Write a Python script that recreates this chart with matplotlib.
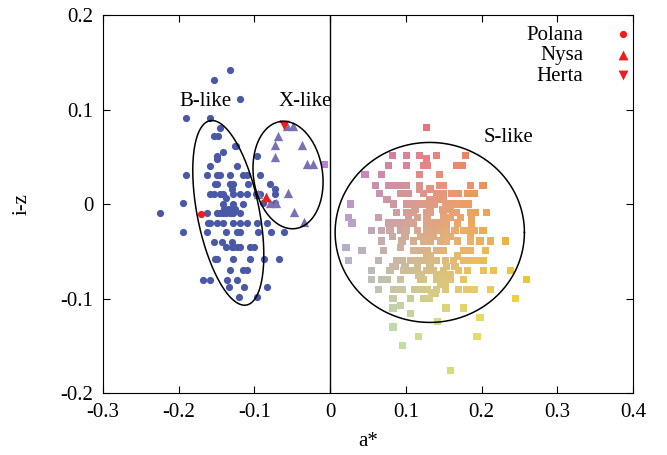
import numpy as np
import matplotlib.pyplot as plt

plt.rcParams['font.family'] = ['Liberation Serif', 'DejaVu Serif']
plt.rcParams['font.size'] = 15

# B-like: cada linha e (i-z, [valores de a*])
b_rows = [
    (0.142, [-0.132]),
    (0.131, [-0.154]),
    (0.111, [-0.119]),
    (0.091, [-0.190, -0.159]),
    (0.081, [-0.146]),
    (0.072, [-0.154, -0.148]),
    (0.061, [-0.126, -0.124]),
    (0.055, [-0.142]),
    (0.051, [-0.149, -0.097]),
    (0.048, [-0.149]),
    (0.040, [-0.159, -0.123]),
    (0.031, [-0.190, -0.163, -0.149, -0.146, -0.132, -0.115, -0.110, -0.092]),
    (0.021, [-0.152, -0.149, -0.132, -0.128, -0.109, -0.079]),
    (0.016, [-0.130, -0.073]),
    (0.011, [-0.159, -0.154, -0.146, -0.141, -0.128, -0.119, -0.110, -0.098, -0.092, -0.073]),
    (0.006, [-0.137]),
    (0.001, [-0.194, -0.088, -0.073]),
    (0.000, [-0.142, -0.128, -0.115]),
    (-0.005, [-0.140, -0.135, -0.130, -0.126]),
    (-0.009, [-0.225, -0.163, -0.150, -0.146, -0.141, -0.137, -0.132, -0.128, -0.119]),
    (-0.020, [-0.161, -0.159, -0.150, -0.141, -0.128, -0.119, -0.110, -0.097, -0.083]),
    (-0.030, [-0.194, -0.163, -0.137, -0.123, -0.119, -0.095, -0.078, -0.061]),
    (-0.040, [-0.154, -0.143, -0.130]),
    (-0.045, [-0.137, -0.130, -0.128, -0.123, -0.119, -0.106, -0.101]),
    (-0.058, [-0.152, -0.149, -0.128, -0.106, -0.087, -0.068]),
    (-0.070, [-0.132, -0.115, -0.110]),
    (-0.080, [-0.168, -0.159, -0.136, -0.123]),
    (-0.088, [-0.133, -0.114, -0.083]),
    (-0.098, [-0.120, -0.096]),
]

# X-like (triangulos)
x_a = [-0.057, -0.049, -0.069, -0.073, -0.037, -0.073, -0.031, -0.022,
       -0.095, -0.079, -0.071, -0.056, -0.048, -0.034]
x_iz = [0.083, 0.083, 0.072, 0.063, 0.062, 0.050, 0.042, 0.042,
        0.011, 0.001, 0.001, 0.012, -0.008, -0.019]

# S-like (quadrados)
s_rows = [
    (0.081, [0.127]),
    (0.051, [0.082, 0.101, 0.118, 0.140, 0.179]),
    (0.048, [0.127]),
    (0.042, [-0.007]),
    (0.041, [0.077, 0.101, 0.123, 0.128, 0.167, 0.175]),
    (0.031, [0.046, 0.068, 0.118, 0.144]),
    (0.020, [0.060, 0.077, 0.082, 0.092, 0.101, 0.118, 0.145, 0.150, 0.185, 0.202]),
    (0.016, [0.118, 0.132]),
    (0.011, [0.065, 0.093, 0.101, 0.104, 0.123, 0.141, 0.150, 0.160, 0.170, 0.181, 0.185, 0.190]),
    (0.005, [0.075, 0.132, 0.141, 0.150]),
    (0.000, [0.027, 0.084, 0.101, 0.108, 0.118, 0.128, 0.138, 0.152, 0.162, 0.170, 0.176, 0.183]),
    (-0.006, [0.112, 0.132, 0.149, 0.159]),
    (-0.009, [0.088, 0.101, 0.110, 0.128, 0.132, 0.150, 0.162, 0.167, 0.185, 0.192, 0.207]),
    (-0.014, [0.024, 0.064, 0.103, 0.115, 0.128, 0.150, 0.159, 0.172, 0.187]),
    (-0.020, [0.029, 0.077, 0.084, 0.092, 0.101, 0.110, 0.128, 0.137, 0.146, 0.154, 0.168, 0.187]),
    (-0.028, [0.055, 0.068, 0.079, 0.093, 0.101, 0.115, 0.128, 0.137, 0.146, 0.154, 0.165, 0.176, 0.185, 0.190, 0.202]),
    (-0.034, [0.082, 0.099, 0.119, 0.128, 0.137, 0.150, 0.159, 0.185]),
    (-0.039, [0.068, 0.095, 0.110, 0.123, 0.132, 0.146, 0.154, 0.168, 0.185, 0.198, 0.212, 0.232]),
    (-0.046, [0.021, 0.093]),
    (-0.049, [0.042, 0.071, 0.110, 0.119, 0.128, 0.141, 0.150, 0.176, 0.185, 0.205]),
    (-0.055, [0.128, 0.132, 0.168]),
    (-0.060, [0.024, 0.064, 0.088, 0.095, 0.106, 0.115, 0.123, 0.132, 0.141, 0.152, 0.163, 0.176, 0.185, 0.194, 0.203]),
    (-0.066, [0.082, 0.086, 0.099, 0.115, 0.132, 0.154, 0.165]),
    (-0.070, [0.055, 0.079, 0.097, 0.106, 0.115, 0.128, 0.137, 0.150, 0.170, 0.181, 0.203, 0.216, 0.238]),
    (-0.075, [0.117, 0.121, 0.141, 0.150, 0.159]),
    (-0.080, [0.055, 0.068, 0.075, 0.093, 0.119, 0.123, 0.141, 0.150, 0.159, 0.176, 0.259]),
    (-0.085, [0.146, 0.152]),
    (-0.090, [0.064, 0.084, 0.090, 0.095, 0.112, 0.121, 0.128, 0.140, 0.152, 0.170, 0.180, 0.190, 0.212]),
    (-0.094, [0.134, 0.139]),
    (-0.100, [0.083, 0.106, 0.123, 0.131, 0.245]),
    (-0.107, [0.093]),
    (-0.110, [0.083, 0.153, 0.176]),
    (-0.116, [0.106]),
    (-0.120, [0.198]),
    (-0.124, [0.142]),
    (-0.130, [0.083]),
    (-0.140, [0.117, 0.194]),
    (-0.150, [0.096]),
    (-0.176, [0.159]),
]

# asteroides de referencia (a*, i-z)
especiais = ["Polana", "Nysa", "Herta"]
esp_a = [-0.170, -0.085, -0.061]
esp_iz = [-0.011, 0.008, 0.084]
esp_marker = ["o", "^", "v"]

b_a = [a for iz, lst in b_rows for a in lst]
b_iz = [iz for iz, lst in b_rows for a in lst]
s_a = np.array([a for iz, lst in s_rows for a in lst])
s_iz = np.array([iz for iz, lst in s_rows for a in lst])

# cor dos quadrados conforme a posicao no plano
dx = (s_a - 0.13) / 0.12
dy = (s_iz + 0.04) / 0.12
r = np.clip(218 + 40 * dx + 15 * dy, 0, 235)
g = np.clip(175 + 5 * dx - 60 * dy, 0, 222)
b = np.clip(135 - 75 * dx - 5 * dy, 40, 225)
s_cores = np.column_stack([r, g, b]) / 255.0

fig = plt.figure(figsize=(6.67, 4.55), dpi=100)
ax = fig.add_axes([0.1544, 0.136, 0.7946, 0.831])

ax.axvline(0, color="black", lw=1)

ax.scatter(b_a, b_iz, s=27, color="#4a58a8", linewidths=0, zorder=3)
ax.scatter(x_a, x_iz, s=45, marker="^", color="#7a70b6", linewidths=0, zorder=3)
ax.scatter(s_a, s_iz, s=27, marker="s", c=s_cores, linewidths=0, zorder=3)

for nome, a, iz, m in zip(especiais, esp_a, esp_iz, esp_marker):
    ax.scatter([a], [iz], s=27 if m == "o" else 50, marker=m, color="#ee1c1c",
               linewidths=0, zorder=4, label=nome)

# elipses dos grupos
t = np.linspace(0, 2 * np.pi, 300)
elipses = [
    (-0.1345, -0.0093, -0.0242, 0.0975, 0.0402, 0.0064),
    (-0.0556, 0.0307, -0.0100, 0.0566, 0.0452, 0.0051),
    (0.1316, -0.0300, 0.1250, 0.0, 0.0, 0.0952),
]
for cx, cy, ax_, ay_, bx_, by_ in elipses:
    ax.plot(cx + ax_ * np.cos(t) + bx_ * np.sin(t),
            cy + ay_ * np.cos(t) + by_ * np.sin(t), color="black", lw=1.1, zorder=5)

ax.text(-0.165, 0.108, "B-like", ha="center", va="center")
ax.text(-0.033, 0.108, "X-like", ha="center", va="center")
ax.text(0.235, 0.070, "S-like", ha="center", va="center")

ax.set_xlim(-0.3, 0.4)
ax.set_ylim(-0.2, 0.2)
ax.set_xticks(np.arange(-0.3, 0.41, 0.1))
ax.set_yticks(np.arange(-0.2, 0.21, 0.1))
ax.set_xticklabels(["-0.3", "-0.2", "-0.1", "0", "0.1", "0.2", "0.3", "0.4"])
ax.set_yticklabels(["-0.2", "-0.1", "0", "0.1", "0.2"])
ax.tick_params(direction="in", top=True, right=True, length=5, pad=7)
ax.set_xlabel("a*", labelpad=7)
ax.set_ylabel("i-z", labelpad=21)

ax.legend(loc="upper right", bbox_to_anchor=(1.013, 0.99), frameon=False,
          markerfirst=False, labelspacing=0.05, handletextpad=1.4,
          borderaxespad=0.3, borderpad=0.0, handlelength=1.0)

plt.savefig("out.png", dpi=100)
plt.close()
print("out.png")
